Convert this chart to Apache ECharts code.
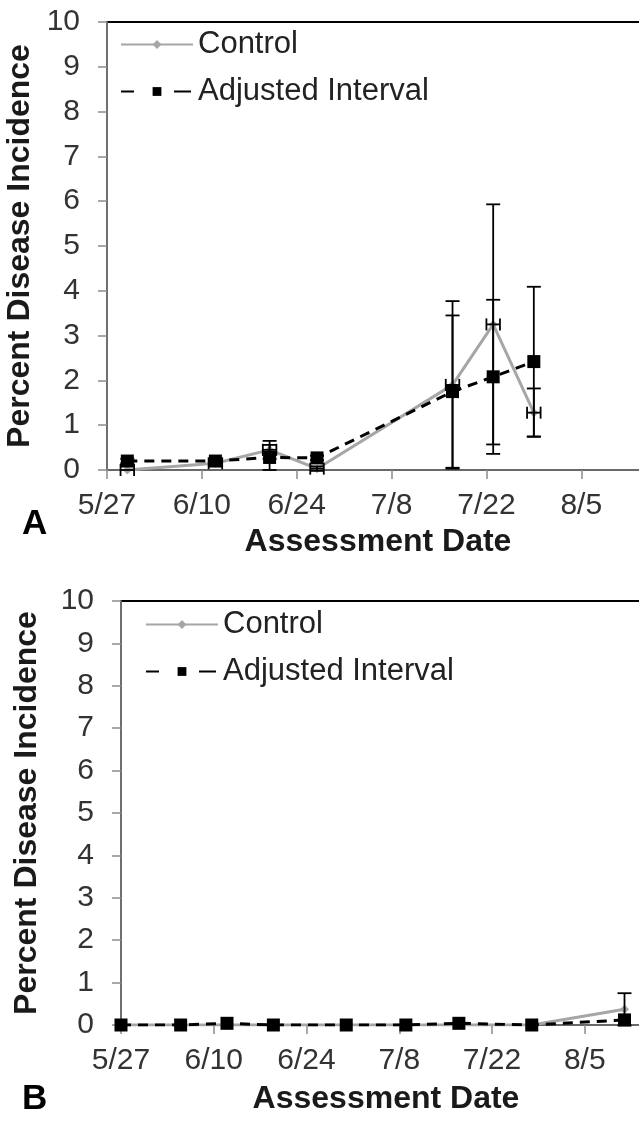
<!DOCTYPE html>
<html>
<head>
<meta charset="utf-8">
<title>Percent Disease Incidence</title>
<script src="https://cdn.jsdelivr.net/npm/echarts@6/dist/echarts.min.js"></script>
<style>
  html, body { margin: 0; padding: 0; background: #fff; }
  #chart { width: 639px; height: 1122px; }
</style>
</head>
<body>
<div id="chart"></div>
<script>
// Panel A assessments
const datesA = ['5/30', '6/12', '6/20', '6/27', '7/17', '7/23', '7/29'];
const controlA = [0, 0.15, 0.45, 0.03, 1.9, 3.25, 1.28];
const controlErrA = [0, 0.05, 0.2, 0.05, 1.87, 2.68, 0.54];
const adjustedA = [0.2, 0.2, 0.28, 0.27, 1.75, 2.08, 2.42];
const adjustedErrA = [0.05, 0.05, 0.28, 0.05, 1.7, 1.72, 1.67];

// Panel B assessments
const datesB = ['5/27', '6/5', '6/12', '6/19', '6/30', '7/9', '7/17', '7/28', '8/11'];
const controlB = [0, 0, 0, 0, 0, 0, 0, 0, 0.37];
const controlErrB = [0, 0, 0, 0, 0, 0, 0, 0, 0.38];
const adjustedB = [0, 0, 0.04, 0, 0, 0, 0.04, 0, 0.12];
const adjustedErrB = [0, 0, 0, 0, 0, 0, 0, 0, 0];

// Axis settings (x in days since 5/27)
const yTicks = [0, 1, 2, 3, 4, 5, 6, 7, 8, 9, 10];
const xStart = '5/27';
const xTickStep = 14;
const xSpanDays = 80;

const YEAR = 2013;
function dayOffset(md) {
  const [m, d] = md.split('/').map(Number);
  const [m0, d0] = xStart.split('/').map(Number);
  return (Date.UTC(YEAR, m - 1, d) - Date.UTC(YEAR, m0 - 1, d0)) / 86400000;
}
function dayLabel(v) {
  if (v % xTickStep !== 0) return '';
  const [m0, d0] = xStart.split('/').map(Number);
  const t = new Date(Date.UTC(YEAR, m0 - 1, d0) + v * 86400000);
  return (t.getUTCMonth() + 1) + '/' + t.getUTCDate();
}

const FONT = '"Liberation Sans", Arial, sans-serif';
const AXIS_GRAY = '#8c8c8c';
const CONTROL_GRAY = '#a6a6a6';

function pairs(dates, vals) {
  return dates.map((d, i) => [dayOffset(d), vals[i]]);
}
function vErr(dates, vals, errs) {
  return dates.map((d, i) => [dayOffset(d), vals[i] - errs[i], vals[i] + errs[i]])
    .filter((r, i) => errs[i] > 0);
}
function hErr(dates, vals, halfDays) {
  return dates.map((d, i) => [dayOffset(d) - halfDays, dayOffset(d) + halfDays, vals[i]]);
}

function renderVErr(params, api) {
  const x = api.value(0);
  const lo = api.coord([x, api.value(1)]);
  const hi = api.coord([x, api.value(2)]);
  const cap = 7;
  const style = { stroke: '#000', lineWidth: 1.8 };
  return {
    type: 'group',
    children: [
      { type: 'line', shape: { x1: lo[0], y1: lo[1], x2: hi[0], y2: hi[1] }, style },
      { type: 'line', shape: { x1: lo[0] - cap, y1: lo[1], x2: lo[0] + cap, y2: lo[1] }, style },
      { type: 'line', shape: { x1: hi[0] - cap, y1: hi[1], x2: hi[0] + cap, y2: hi[1] }, style }
    ]
  };
}
function renderHErr(params, api) {
  const y = api.value(2);
  const a = api.coord([api.value(0), y]);
  const b = api.coord([api.value(1), y]);
  const cap = 6;
  const style = { stroke: '#000', lineWidth: 1.8 };
  return {
    type: 'group',
    children: [
      { type: 'line', shape: { x1: a[0], y1: a[1], x2: b[0], y2: b[1] }, style },
      { type: 'line', shape: { x1: a[0], y1: a[1] - cap, x2: a[0], y2: a[1] + cap }, style },
      { type: 'line', shape: { x1: b[0], y1: b[1] - cap, x2: b[0], y2: b[1] + cap }, style }
    ]
  };
}

function xAxisFor(gridIndex, nameGap) {
  return {
    type: 'value', gridIndex, min: 0, max: xSpanDays, interval: xTickStep,
    name: 'Assessment Date', nameLocation: 'middle', nameGap,
    nameTextStyle: { fontFamily: FONT, fontSize: 32, fontWeight: 'bold', color: '#1a1a1a' },
    axisLine: { show: true, lineStyle: { color: AXIS_GRAY, width: 1.5 } },
    axisTick: { show: true, inside: false, length: 9, lineStyle: { color: AXIS_GRAY, width: 1.5 } },
    axisLabel: { formatter: dayLabel, fontFamily: FONT, fontSize: 30, color: '#333', margin: 21, hideOverlap: false },
    splitLine: { show: false }
  };
}
function yAxisFor(gridIndex, nameGap) {
  return {
    type: 'value', gridIndex, min: yTicks[0], max: yTicks[yTicks.length - 1], interval: 1,
    name: 'Percent Disease Incidence', nameLocation: 'middle', nameGap, nameRotate: 90,
    nameTextStyle: { fontFamily: FONT, fontSize: 32, fontWeight: 'bold', color: '#1a1a1a' },
    axisLine: { show: true, lineStyle: { color: AXIS_GRAY, width: 1.5 } },
    axisTick: { show: true, inside: false, length: 9, lineStyle: { color: AXIS_GRAY, width: 1.5 } },
    axisLabel: { fontFamily: FONT, fontSize: 30, color: '#333', margin: 27 },
    splitLine: { show: false }
  };
}

function controlSeries(axisIdx, data) {
  return {
    name: 'Control', type: 'line', xAxisIndex: axisIdx, yAxisIndex: axisIdx, data,
    symbol: 'diamond', symbolSize: 9, showSymbol: true,
    lineStyle: { color: CONTROL_GRAY, width: 3 },
    itemStyle: { color: CONTROL_GRAY },
    z: 3
  };
}
function adjustedSeries(axisIdx, data) {
  return {
    name: 'Adjusted Interval', type: 'line', xAxisIndex: axisIdx, yAxisIndex: axisIdx, data,
    symbol: 'rect', symbolSize: 13, showSymbol: true,
    lineStyle: { color: '#000', width: 3, type: [10, 7] },
    itemStyle: { color: '#000' },
    z: 4
  };
}
function errSeries(axisIdx, data, renderItem) {
  return {
    type: 'custom', xAxisIndex: axisIdx, yAxisIndex: axisIdx, data, renderItem,
    encode: { x: [0, 1], y: [1, 2] }, silent: true, z: 5
  };
}

function legendAt(left, top) {
  return {
    left, top, padding: 0, orient: 'vertical', itemWidth: 72, itemHeight: 11, itemGap: 16,
    textStyle: { fontFamily: FONT, fontSize: 31, color: '#222' },
    data: [
      { name: 'Control' },
      { name: 'Adjusted Interval', lineStyle: { type: [13, 40, 17, 2] } }
    ],
    selectedMode: false
  };
}

const chart = echarts.init(document.getElementById('chart'), null, { renderer: 'canvas' });
chart.setOption({
  animation: false,
  backgroundColor: '#fff',
  grid: [
    { left: 107, top: 22, width: 542, height: 448, show: true, borderColor: '#000', borderWidth: 1.8,
      containLabel: false, outerBoundsMode: 'none' },
    { left: 121, top: 601, width: 530, height: 424, show: true, borderColor: '#000', borderWidth: 1.8,
      containLabel: false, outerBoundsMode: 'none' }
  ],
  xAxis: [xAxisFor(0, 56), xAxisFor(1, 58)],
  yAxis: [yAxisFor(0, 64), yAxisFor(1, 78)],
  legend: [legendAt(120, 29), legendAt(145, 609)],
  graphic: [
    { type: 'text', left: 22, top: 507, style: { text: 'A', font: 'bold 35px ' + FONT, fill: '#000' } },
    { type: 'text', left: 22, top: 1082, style: { text: 'B', font: 'bold 35px ' + FONT, fill: '#000' } }
  ],
  series: [
    controlSeries(0, pairs(datesA, controlA)),
    adjustedSeries(0, pairs(datesA, adjustedA)),
    errSeries(0, vErr(datesA, controlA, controlErrA), renderVErr),
    errSeries(0, vErr(datesA, adjustedA, adjustedErrA), renderVErr),
    errSeries(0, hErr(datesA, controlA, 1), renderHErr),
    controlSeries(1, pairs(datesB, controlB)),
    adjustedSeries(1, pairs(datesB, adjustedB)),
    errSeries(1, vErr(datesB, controlB, controlErrB), renderVErr),
    errSeries(1, vErr(datesB, adjustedB, adjustedErrB), renderVErr)
  ]
});
</script>
</body>
</html>
